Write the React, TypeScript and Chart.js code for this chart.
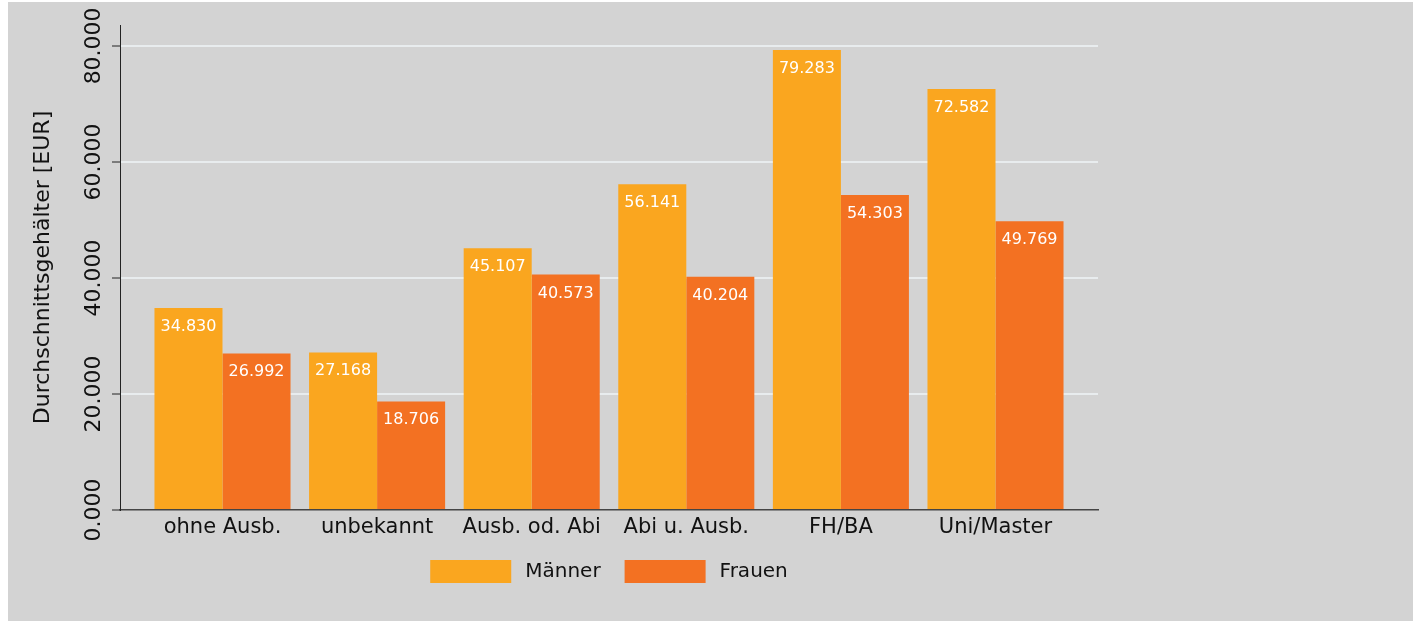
import { useEffect, useRef } from 'react';
import { Chart, registerables } from 'chart.js';

Chart.register(...registerables);

const categories = ['ohne Ausb.', 'unbekannt', 'Ausb. od. Abi', 'Abi u. Ausb.', 'FH/BA', 'Uni/Master'];
const maenner = [34830, 27168, 45107, 56141, 79283, 72582];
const frauen = [26992, 18706, 40573, 40204, 54303, 49769];
const seriesNames = ['Männer', 'Frauen'];
const yTicks = [0, 20000, 40000, 60000, 80000];
const yMax = 83600;
const yTitle = 'Durchschnittsgehälter [EUR]';

const FONT = '"DejaVu Sans", sans-serif';
const COLOR_M = '#FAA61F';
const COLOR_F = '#F37122';

function fmt(v: number): string {
  const t = Math.floor(v / 1000);
  const r = Math.round(v % 1000);
  return `${t}.${String(r).padStart(3, '0')}`;
}

const labelPlugin = {
  id: 'customLabels',
  afterDatasetsDraw(chart: any) {
    const ctx = chart.ctx;
    ctx.save();
    ctx.font = `16px ${FONT}`;
    ctx.fillStyle = '#ffffff';
    ctx.textAlign = 'center';
    ctx.textBaseline = 'alphabetic';
    chart.data.datasets.forEach((ds: any, di: number) => {
      const meta = chart.getDatasetMeta(di);
      meta.data.forEach((el: any, i: number) => {
        ctx.fillText(fmt(ds.data[i]), el.x, el.y + 23);
      });
    });
    ctx.restore();
  },
  afterDraw(chart: any) {
    const ctx = chart.ctx;
    const ys = chart.scales.y;
    ctx.save();
    ctx.fillStyle = '#111111';
    ctx.textAlign = 'center';
    ctx.textBaseline = 'alphabetic';
    ctx.font = `22px ${FONT}`;
    ys.ticks.forEach((t: any) => {
      const py = ys.getPixelForValue(t.value);
      ctx.save();
      ctx.translate(ys.right - 20, py);
      ctx.rotate(-Math.PI / 2);
      ctx.fillText(fmt(t.value), 0, 0);
      ctx.restore();
    });
    const cy = (chart.chartArea.top + chart.chartArea.bottom) / 2;
    ctx.save();
    ctx.translate(41, cy);
    ctx.rotate(-Math.PI / 2);
    ctx.fillText(yTitle, 0, 0);
    ctx.restore();
    ctx.restore();
  },
};

export default function App() {
  const ref = useRef<HTMLCanvasElement>(null);
  useEffect(() => {
    if (!ref.current) return;
    const chart = new Chart(ref.current, {
      type: 'bar',
      data: {
        labels: categories,
        datasets: [
          { label: seriesNames[0], data: maenner, backgroundColor: COLOR_M, borderWidth: 0 },
          { label: seriesNames[1], data: frauen, backgroundColor: COLOR_F, borderWidth: 0 },
        ],
      },
      options: {
        animation: false,
        responsive: true,
        maintainAspectRatio: false,
        layout: { padding: { top: 23, right: 315, bottom: 28, left: 0 } },
        datasets: { bar: { categoryPercentage: 0.88, barPercentage: 1.0 } },
        scales: {
          x: {
            type: 'category',
            offset: true,
            grid: { display: false, drawTicks: false },
            border: { display: true, color: '#444444', width: 1.5 },
            ticks: {
              font: { family: FONT, size: 21 },
              color: '#111111',
              padding: 5,
              autoSkip: false,
              maxRotation: 0,
              minRotation: 0,
            },
            afterBuildTicks: (s: any) => {
              const pad = 0.163;
              s._startValue = -0.5 - pad;
              s._valueRange = categories.length + 2 * pad;
            },
            afterFit: (s: any) => {
              s.height = 26;
            },
          },
          y: {
            min: 0,
            max: yMax,
            grid: {
              color: (c: any) => (c.tick && c.tick.value === 0 ? 'rgba(0,0,0,0)' : '#e8ecee'),
              lineWidth: 2,
              tickColor: '#222222',
              tickLength: 8,
              tickWidth: 1,
              drawTicks: true,
            },
            border: { display: true, color: '#222222', width: 1 },
            ticks: { display: false },
            afterBuildTicks: (s: any) => {
              s.ticks = yTicks.map((v) => ({ value: v }));
            },
            afterFit: (s: any) => {
              s.width = 112;
            },
          },
        },
        plugins: {
          tooltip: { enabled: false },
          legend: {
            position: 'bottom',
            fullSize: false,
            labels: {
              boxWidth: 81,
              boxHeight: 23,
              padding: 24,
              color: '#111111',
              font: { family: FONT, size: 20 },
              generateLabels: (c: any) =>
                (Chart.defaults.plugins.legend.labels as any)
                  .generateLabels(c)
                  .map((l: any) => ({ ...l, text: '\u2009' + l.text, lineWidth: 0 })),
            },
          },
        },
      } as any,
      plugins: [labelPlugin],
    });
    return () => chart.destroy();
  }, []);

  return (
    <div
      style={{
        position: 'absolute',
        left: 8,
        top: 2,
        width: 1405,
        height: 619,
        background: '#d3d3d3',
      }}
    >
      <canvas ref={ref} />
    </div>
  );
}
